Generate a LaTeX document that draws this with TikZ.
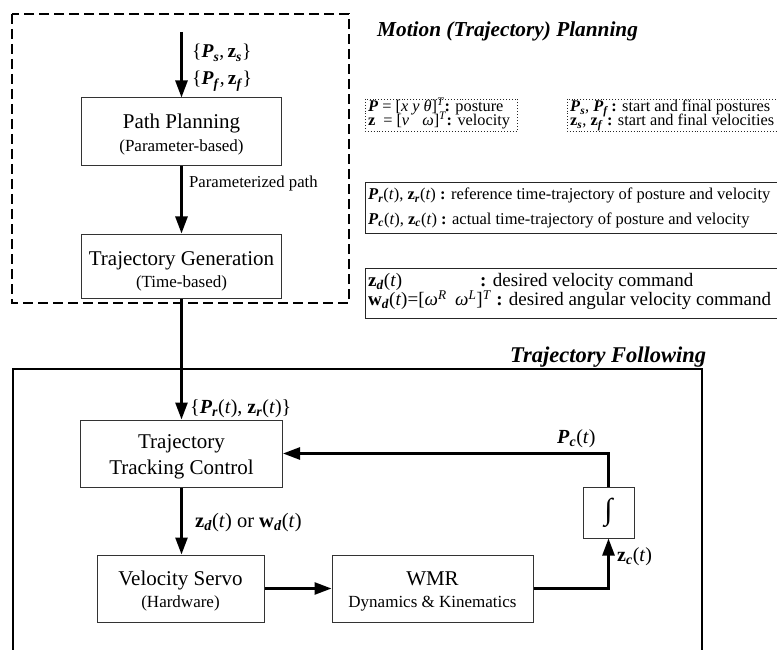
\documentclass[tikz,border=0pt]{standalone}
\usepackage{fontspec}
\setmainfont{Liberation Serif}
\usetikzlibrary{arrows.meta}

% symbols used in the labels
\newcommand{\vP}{\textbf{\textit{P}}}
\newcommand{\vz}{\textbf{z}}
\newcommand{\vw}{\textbf{w}}
\newcommand{\lob}[1]{\textsubscript{\textbf{\textit{#1}}}}
\newcommand{\hi}[1]{\textsuperscript{\textit{#1}}}
\newcommand{\ofT}{(\textit{t})}
\newcommand{\fsz}[1]{\fontsize{#1}{#1}\selectfont}

\tikzset{
  blk/.style={draw=black!80, line width=1pt, inner sep=0pt},
  flow/.style={line width=2.6pt, -{Triangle[length=17pt,width=12pt]}},
  bigtxt/.style={font=\fsz{21}, inner sep=0pt, anchor=base},
  smalltxt/.style={font=\fsz{17}, inner sep=0pt, anchor=base},
  lbl/.style={font=\fsz{20}, inner sep=0pt, anchor=base west},
  ttl/.style={inner sep=0pt, anchor=base west},
  note/.style={inner sep=0pt, anchor=base west},
  legdot/.style={draw=black!85, line width=0.9pt, dotted},
  legbox/.style={draw=black!85, line width=1pt},
}

\begin{document}
\begin{tikzpicture}[x=1pt,y=-1pt]
\clip (0,0) rectangle (777,650);
\fill[white] (0,0) rectangle (777,650);

% planning frame and following frame
\draw[line width=1.5pt, dash pattern=on 10pt off 5pt] (12,14) rectangle (349,303);
\draw[line width=1.3pt] (13,660) -- (13,369) -- (702,369) -- (702,660);

\node[ttl, font=\fsz{21.3}\bfseries\itshape] (ttlplan) at (377,37) {Motion (Trajectory) Planning};
\node[ttl, font=\fsz{22.5}\bfseries\itshape] (ttlfollow) at (510,362) {Trajectory Following};

% blocks
\node[blk, minimum width=200pt, minimum height=68pt] (pp) at (181.5,132) {};
\node[bigtxt] (ppa) at (181.5,129) {Path Planning};
\node[smalltxt] (ppb) at (181.5,151.5) {(Parameter-based)};

\node[blk, minimum width=200pt, minimum height=64pt] (tg) at (181.5,266) {};
\node[bigtxt] (tga) at (181.5,265) {Trajectory Generation};
\node[smalltxt] (tgb) at (181.5,287.5) {(Time-based)};

\node[blk, minimum width=202pt, minimum height=67pt] (ttc) at (181.5,453.5) {};
\node[bigtxt] (ttca) at (181.5,448) {Trajectory};
\node[bigtxt] (ttcb) at (181.5,474) {Tracking Control};

\node[blk, minimum width=167pt, minimum height=67pt] (vs) at (180.5,588.5) {};
\node[bigtxt] (vsa) at (180.5,585) {Velocity Servo};
\node[smalltxt] (vsb) at (180.5,607.5) {(Hardware)};

\node[blk, minimum width=201pt, minimum height=67pt] (wmr) at (432.5,588.5) {};
\node[bigtxt] (wmra) at (432.5,585) {WMR};
\node[smalltxt] (wmrb) at (432.5,607.5) {Dynamics \& Kinematics};

\node[blk, minimum width=51pt, minimum height=51pt, font=\fsz{30}] (int) at (608.5,512.5) {∫};

% connectors
\coordinate (src) at (181.5,32);
\draw[flow] (src) -- (pp.north);
\draw[flow] (pp.south) -- (tg.north);
\draw[flow] (tg.south) -- (ttc.north);
\draw[flow] (ttc.south) -- (ttc.south |- vs.north);
\draw[flow] (vs.east) -- (wmr.west);
\draw[flow] (wmr.east) -| (int.south);
\draw[flow] (int.north) |- (ttc.east);

% connector labels
\node[lbl, font=\fsz{19.5}] (ls1) at (192,58) {\{\vP\lob{s},\,\vz\lob{s}\}};
\node[lbl, font=\fsz{19.5}] (ls2) at (192,85) {\{\vP\lob{f},\,\vz\lob{f}\}};
\node[note, font=\fsz{16.7}] (lpath) at (189,188) {Parameterized path};
\node[lbl] (lref) at (190,413) {\{\vP\lob{r}\ofT, \vz\lob{r}\ofT\}};
\node[lbl, font=\fsz{20.5}] (lcmd) at (195,527) {\vz\lob{d}\ofT{} or \vw\lob{d}\ofT};
\node[lbl, font=\fsz{20}] (lpc) at (557,443) {\vP\lob{c}\ofT};
\node[lbl] (lzc) at (617,561) {\vz\lob{c}\ofT};

% legends
\draw[legdot] (365,99) rectangle (517,131);
\node[note, font=\fsz{16.3}] (n1a) at (368,111.5) {\vP{} = [\textit{x y θ}]\hi{T}\textbf{:} posture};
\node[note, font=\fsz{16.3}] (n1b) at (368,126) {\makebox[11pt][l]{\vz}{} = [\textit{v}\hspace{0.8em}\textit{ω}]\hi{T}\textbf{:} velocity};

\draw[legdot] (567,99) rectangle (790,131);
\node[note, font=\fsz{16.3}] (n2a) at (570,111.5) {\vP\lob{s}, \vP\lob{f}\,\textbf{:} start and final postures};
\node[note, font=\fsz{16.3}] (n2b) at (570,126) {\vz\lob{s}, \vz\lob{f} \textbf{:} start and final velocities};

\draw[legbox] (365,183) rectangle (790,233);
\node[note, font=\fsz{16.5}] (n3a) at (368,199.5) {\vP\lob{r}\ofT, \vz\lob{r}\ofT{} \textbf{:} reference time-trajectory of posture and velocity};
\node[note, font=\fsz{16.5}] (n3b) at (368,224) {\vP\lob{c}\ofT, \vz\lob{c}\ofT{} \textbf{:} actual time-trajectory of posture and velocity};

\draw[legbox] (365,268) rectangle (790,318);
\node[note, font=\fsz{19}] (n4a) at (368,286) {\vz\lob{d}\ofT};
\node[note, font=\fsz{19}] (n4c) at (480,286) {\textbf{:} desired velocity command};
\node[note, font=\fsz{19}] (n4b) at (368,305.5) {\vw\lob{d}\ofT=[\textit{ω}\hi{R}\hspace{0.45em}\textit{ω}\hi{L}]\hi{T} \textbf{:} desired angular velocity command};
\end{tikzpicture}
\end{document}
